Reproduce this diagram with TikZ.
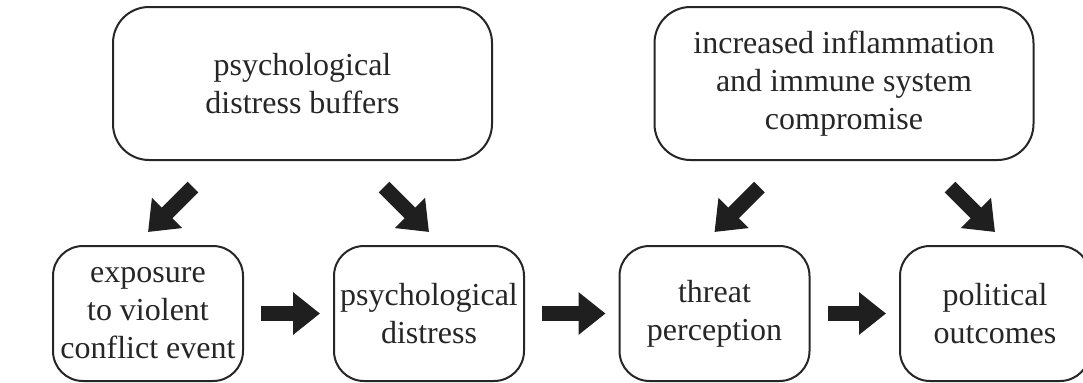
\documentclass[tikz,border=0pt]{standalone}
\usepackage{fontspec}
\setmainfont{Liberation Serif}
\usetikzlibrary{arrows.meta}
\begin{document}
\begin{tikzpicture}[x=0.5pt, y=-0.5pt, inner sep=0, outer sep=0,
  box/.style={rectangle, draw=black!85, line width=1pt, align=center,
    text=black!85, font=\fontsize{16}{19}\selectfont},
  bigbox/.style={box, rounded corners=18pt,
    minimum width=189.5pt, minimum height=76.5pt},
  smallbox/.style={box, rounded corners=15pt,
    minimum width=95pt, minimum height=67.5pt},
  fatarrow/.style={-{Triangle[length=13.5pt, width=20.5pt]},
    line width=7.5pt, draw=black!88}]
  \useasboundingbox (0, 0) rectangle (1083, 382);
% TOP ROW
  \node[bigbox] (buffers) at (302.5, 83.5) {psychological\\distress buffers};
  \node[bigbox] (inflammation) at (844, 83.5) {increased inflammation\\and immune system\\compromise};

% BOTTOM ROW
  \node[smallbox] (exposure) at (148, 313.5) {exposure\\to violent\\conflict event};
  \node[smallbox] (distress) at (429, 313.5) {psychological\\distress};
  \node[smallbox] (threat) at (714.5, 313.5) {threat\\perception};
  \node[smallbox] (outcomes) at (995, 313.5) {political\\outcomes};

  \draw[fatarrow, shorten <=9pt, shorten >=7pt] (exposure) -- (distress);
  \draw[fatarrow, shorten <=9pt, shorten >=7pt] (distress) -- (threat);
  \draw[fatarrow, shorten <=9pt, shorten >=7pt] (threat) -- (outcomes);

% DIAGONALS
  \draw[fatarrow] ([xshift=22.5pt, yshift=29.5pt]exposure.north) -- ([yshift=7pt]exposure.north);
  \draw[fatarrow] ([xshift=-22.5pt, yshift=29.5pt]distress.north) -- ([yshift=7pt]distress.north);
  \draw[fatarrow] ([xshift=22.5pt, yshift=29.5pt]threat.north) -- ([yshift=7pt]threat.north);
  \draw[fatarrow] ([xshift=-22.5pt, yshift=29.5pt]outcomes.north) -- ([yshift=7pt]outcomes.north);
\end{tikzpicture}
\end{document}
